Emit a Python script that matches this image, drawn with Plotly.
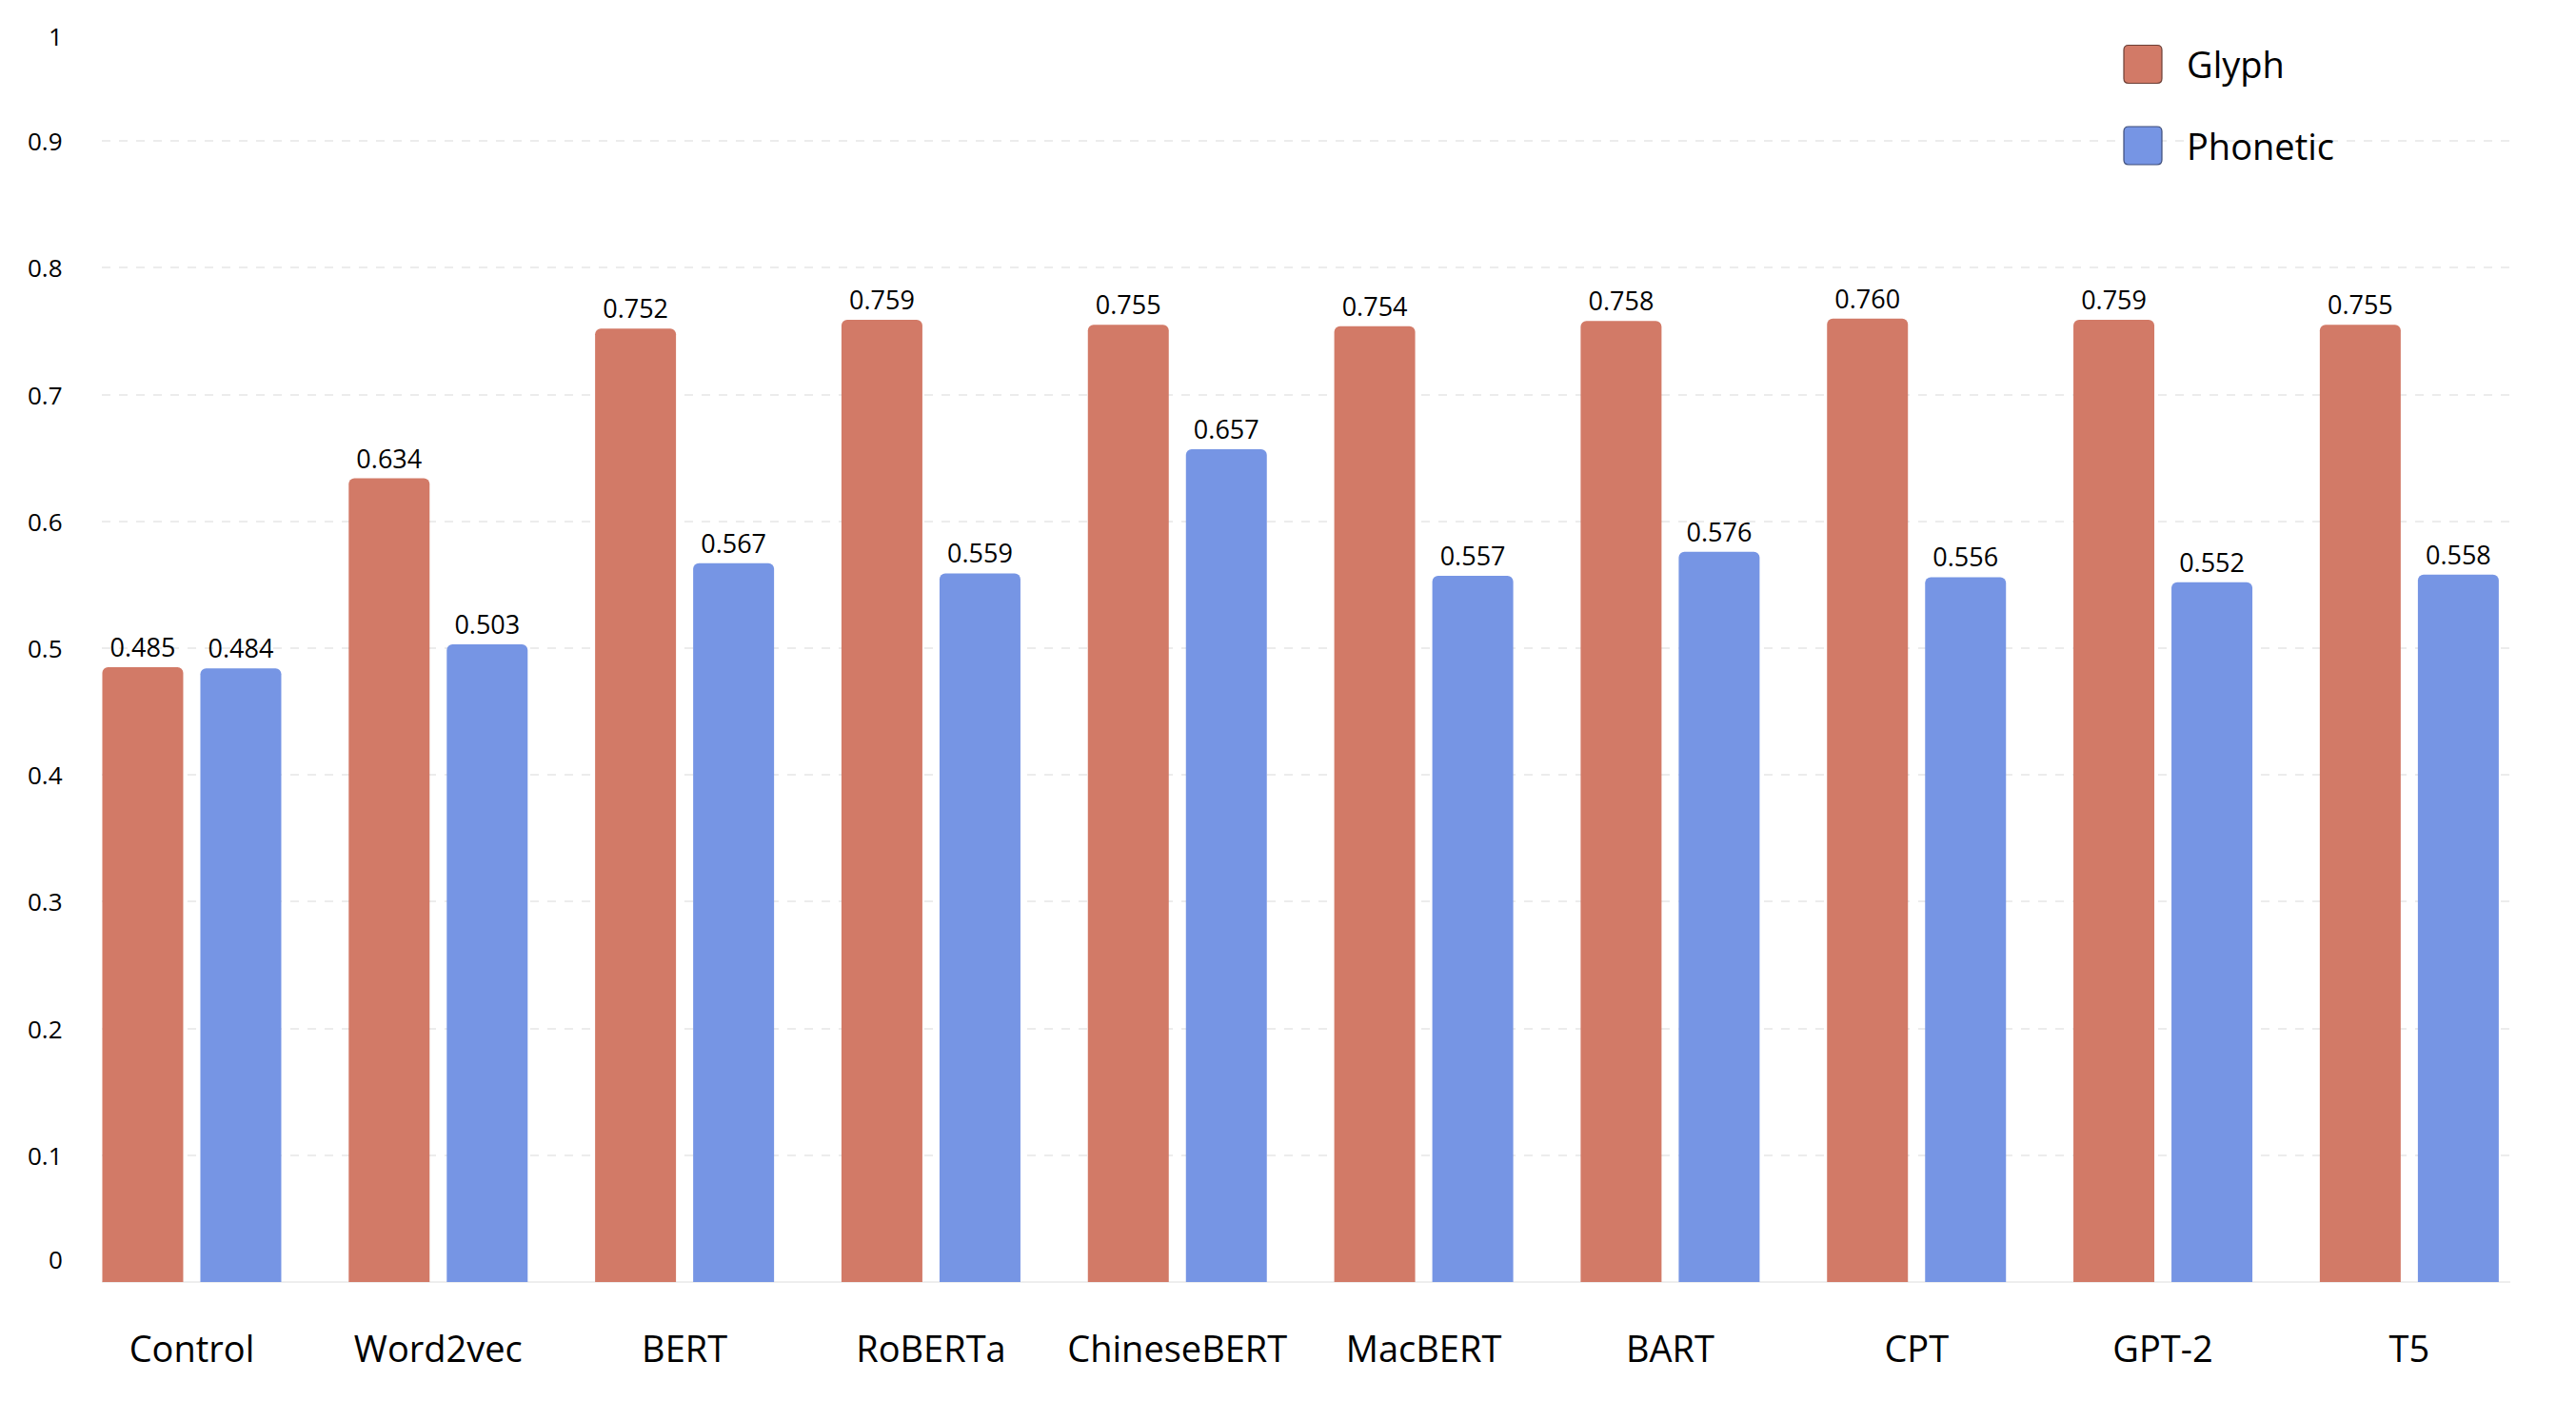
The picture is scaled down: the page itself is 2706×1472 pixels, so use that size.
import plotly.graph_objects as go

# ---- data ----
models = ["Control", "Word2vec", "BERT", "RoBERTa", "ChineseBERT",
          "MacBERT", "BART", "CPT", "GPT-2", "T5"]
glyph = [0.485, 0.634, 0.752, 0.759, 0.755, 0.754, 0.758, 0.760, 0.759, 0.755]
phonetic = [0.484, 0.503, 0.567, 0.559, 0.657, 0.557, 0.576, 0.556, 0.552, 0.558]
y_ticks = [0, 0.1, 0.2, 0.3, 0.4, 0.5, 0.6, 0.7, 0.8, 0.9, 1]
y_tick_text = ["0", "0.1", "0.2", "0.3", "0.4", "0.5", "0.6", "0.7", "0.8", "0.9", "1"]
series_names = ["Glyph", "Phonetic"]
series_colors = ["#D27A67", "#7695E4"]
series_edges = ["#6b3f36", "#3d4c78"]

FONT = "Open Sans"
W, H = 2706, 1472
ML, MR, MT, MB = 107, 69, 15, 125

fig = go.Figure()
for name, vals, col in zip(series_names, [glyph, phonetic], series_colors):
    fig.add_trace(go.Bar(
        x=models, y=vals, name=name,
        marker=dict(color=col, line=dict(width=0), cornerradius=6),
        texttemplate="%{y:.3f}", textposition="outside",
        textfont=dict(family=FONT, size=27, color="#000"),
        cliponaxis=False, showlegend=False,
    ))

# y tick labels as annotations (first/last are offset inward like the original)
annos = []
for v, t in zip(y_ticks, y_tick_text):
    shift = 0
    if v == 0:
        shift = 24
    elif v == 1:
        shift = -23
    annos.append(dict(xref="paper", yref="y", x=0, y=v, text=t, showarrow=False,
                      xanchor="right", yanchor="middle", xshift=-39, yshift=shift,
                      font=dict(family=FONT, size=26, color="#000")))

# manual legend
def rounded_square(h=20, r=5):
    return (f"M {-h+r},{-h} L {h-r},{-h} Q {h},{-h} {h},{-h+r} "
            f"L {h},{h-r} Q {h},{h} {h-r},{h} L {-h+r},{h} Q {-h},{h} {-h},{h-r} "
            f"L {-h},{-h+r} Q {-h},{-h} {-h+r},{-h} Z")

plot_w = W - ML - MR
plot_h = H - MT - MB
legend_cx = 2251
legend_text_x = 2295
legend_cy = [67.5, 153]
shapes = []
for name, col, edge, cy in zip(series_names, series_colors, series_edges, legend_cy):
    px = (legend_cx - ML) / plot_w
    py = (H - MB - cy) / plot_h
    shapes.append(dict(type="path", xref="paper", yref="paper",
                       xsizemode="pixel", ysizemode="pixel",
                       xanchor=px, yanchor=py, path=rounded_square(),
                       fillcolor=col, line=dict(color=edge, width=1.2)))
    annos.append(dict(xref="paper", yref="paper", x=(legend_text_x - ML) / plot_w, y=py,
                      text=name, showarrow=False, xanchor="left", yanchor="middle",
                      font=dict(family=FONT, size=38, color="#000")))

fig.update_layout(
    width=W, height=H,
    margin=dict(l=ML, r=MR, t=MT, b=MB, pad=0),
    paper_bgcolor="white", plot_bgcolor="white",
    barmode="group", bargap=0.204, bargroupgap=0.175,
    font=dict(family=FONT, color="#000"),
    annotations=annos, shapes=shapes,
    showlegend=False,
)
fig.update_xaxes(
    type="category", range=[-0.365, 9.41],
    showgrid=False, showline=False, zeroline=False, ticks="",
    tickfont=dict(family=FONT, size=38, color="#000"),
    ticklabelstandoff=45,
)
fig.update_yaxes(
    range=[0, 1], tickvals=y_ticks, showticklabels=False,
    showgrid=True, gridcolor="#ececec", griddash="dash", gridwidth=1.5,
    zeroline=True, zerolinecolor="#eeeeee", zerolinewidth=2,
    showline=False, ticks="",
)

fig.write_html("out.html", config={"displayModeBar": False},
               post_script="document.body.style.margin='0';")
